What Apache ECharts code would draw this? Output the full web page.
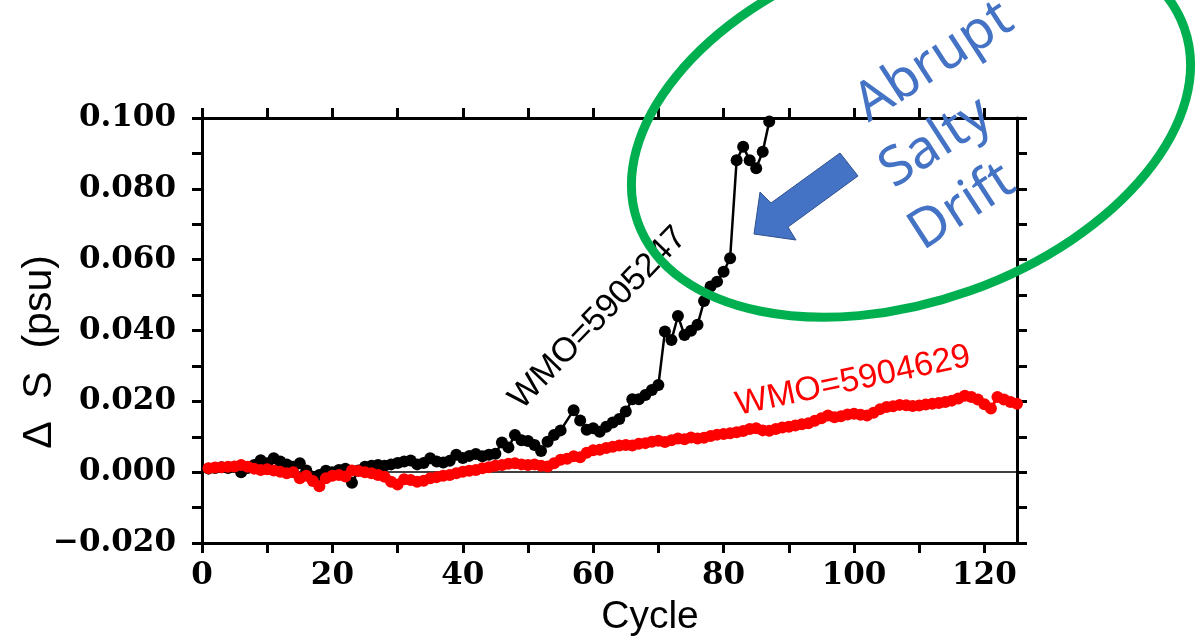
<!DOCTYPE html>
<html><head><meta charset="utf-8">
<script src="https://cdn.jsdelivr.net/npm/echarts@6/dist/echarts.min.js"></script>
<style>html,body{margin:0;padding:0;background:#fff}#c{width:1203px;height:641px}</style>
</head><body><div id="c"></div>
<script>
// WMO=5905247 (black)
const blackCycles = [1,2,3,4,5,6,7,8,9,10,11,12,13,14,15,16,17,18,19,20,21,22,23,24,25,26,27,28,29,30,
  31,32,33,34,35,36,37,38,39,40,41,42,43,44,45,46,47,48,49,50,51,52,53,54,55,57,58,59,60,61,62,63,64,65,
  66,67,68,69,70,71,72,73,74,75,76,77,78,79,80,81,82,83,84,85,86,87];
const blackValues = [0.0010,0.0012,0.0014,0.0012,0.0015,0.0000,0.0012,0.0020,0.0034,0.0025,
  0.0039,0.0030,0.0022,0.0015,0.0025,0.0005,-0.0013,-0.0008,0.0004,0.0000,
  0.0006,0.0010,-0.0030,0.0005,0.0015,0.0018,0.0020,0.0018,0.0022,0.0026,
  0.0030,0.0033,0.0022,0.0026,0.0039,0.0030,0.0027,0.0032,0.0049,0.0040,
  0.0046,0.0051,0.0045,0.0049,0.0052,0.0084,0.0070,0.0105,0.0090,0.0088,
  0.0077,0.0060,0.0086,0.0105,0.0118,0.0175,0.0146,0.0120,0.0124,0.0114,
  0.0128,0.0140,0.0150,0.0171,0.0206,0.0206,0.0218,0.0232,0.0246,0.0397,
  0.0373,0.0441,0.0387,0.0399,0.0416,0.0483,0.0524,0.0538,0.0566,0.0604,
  0.0881,0.0919,0.0881,0.0858,0.0905,0.0990];
// WMO=5904629 (red)
const redCycles = [1,2,3,4,5,6,7,8,9,10,11,12,13,14,15,16,17,18,19,20,21,22,23,24,25,
  26,27,28,29,30,31,32,33,34,35,36,37,38,39,40,41,42,43,44,45,46,47,48,49,50,
  51,52,53,54,55,56,57,58,59,60,61,62,63,64,65,66,67,68,69,70,71,72,73,74,75,
  76,77,78,79,80,81,82,83,84,85,86,87,88,89,90,91,92,93,94,95,96,97,98,99,100,
  101,102,103,104,105,106,107,108,109,110,111,112,113,114,115,116,117,118,119,120,121,122,123,124,125];
const redValues = [0.0011,0.0013,0.0014,0.0015,0.0016,0.0020,0.0015,0.0010,0.0006,0.0008,
  0.0005,0.0001,-0.0003,0.0000,-0.0017,-0.0010,-0.0025,-0.0040,-0.0017,-0.0010,
  -0.0008,-0.0012,0.0005,0.0003,0.0000,-0.0003,-0.0008,-0.0013,-0.0027,-0.0035,
  -0.0020,-0.0022,-0.0027,-0.0024,-0.0017,-0.0014,-0.0010,-0.0008,-0.0003,0.0001,
  0.0004,0.0006,0.0011,0.0014,0.0018,0.0020,0.0024,0.0025,0.0022,0.0020,
  0.0022,0.0018,0.0016,0.0025,0.0035,0.0038,0.0045,0.0042,0.0055,0.0062,
  0.0063,0.0068,0.0072,0.0075,0.0077,0.0075,0.0080,0.0082,0.0086,0.0089,
  0.0085,0.0090,0.0095,0.0093,0.0098,0.0095,0.0097,0.0102,0.0106,0.0108,
  0.0110,0.0113,0.0116,0.0122,0.0124,0.0118,0.0117,0.0122,0.0126,0.0128,
  0.0132,0.0135,0.0138,0.0145,0.0152,0.0160,0.0155,0.0158,0.0163,0.0165,
  0.0162,0.0160,0.0168,0.0178,0.0184,0.0186,0.0190,0.0189,0.0187,0.0188,
  0.0191,0.0193,0.0195,0.0198,0.0202,0.0208,0.0216,0.0212,0.0205,0.0192,
  0.0180,0.0212,0.0205,0.0198,0.0193];
const xTickValues = [0,10,20,30,40,50,60,70,80,90,100,110,120];
const xLabelValues = [0,20,40,60,80,100,120];
const yLabelValues = [-0.02,0,0.02,0.04,0.06,0.08,0.1];

const blackData = blackCycles.map((c,i)=>[c, blackValues[i]]);
const redData = redCycles.map((c,i)=>[c, redValues[i]]);

const axisLine = {show:true, onZero:false, lineStyle:{color:'#000', width:3}};
const axisTick = {show:true, inside:false, length:10, lineStyle:{color:'#000', width:3}};
const labelFont = {fontFamily:'DejaVu Serif', fontWeight:'bold', fontSize:31, color:'#000'};
const fmtY = v => (v < 0 ? '\u2212' : '') + Math.abs(v).toFixed(3);

const chart = echarts.init(document.getElementById('c'), null, {renderer:'canvas'});
chart.setOption({
  animation:false,
  backgroundColor:'#fff',
  grid:{left:202, right:186, top:118, bottom:98, containLabel:false},
  xAxis:[
    {type:'value', position:'bottom', min:0, max:125, interval:10,
     axisLine, axisTick:Object.assign({customValues:xTickValues}, axisTick),
     axisLabel:Object.assign({customValues:xLabelValues, margin:17, formatter:v=>String(v)}, labelFont),
     splitLine:{show:false}},
    {type:'value', position:'top', min:0, max:125, interval:10,
     axisLine, axisTick:Object.assign({customValues:xTickValues}, axisTick),
     axisLabel:{show:false}, splitLine:{show:false}}
  ],
  yAxis:[
    {type:'value', position:'left', min:-0.02, max:0.1, interval:0.01,
     axisLine, axisTick,
     axisLabel:Object.assign({customValues:yLabelValues, margin:26, formatter:fmtY}, labelFont),
     splitLine:{show:false}},
    {type:'value', position:'right', min:-0.02, max:0.1, interval:0.01,
     axisLine, axisTick, axisLabel:{show:false}, splitLine:{show:false}}
  ],
  series:[
    {name:'WMO=5905247', type:'line', data:blackData, xAxisIndex:0, yAxisIndex:0,
     symbol:'circle', symbolSize:12, showSymbol:true,
     lineStyle:{color:'#000', width:2.5}, itemStyle:{color:'#000'}, z:3,
     markLine:{silent:true, symbol:['none','none'], label:{show:false},
       lineStyle:{color:'#000', width:1.5, type:'solid'}, data:[{yAxis:0}], z:1}},
    {name:'WMO=5904629', type:'line', data:redData, xAxisIndex:0, yAxisIndex:0,
     symbol:'circle', symbolSize:12, showSymbol:true,
     lineStyle:{color:'#ff0000', width:3}, itemStyle:{color:'#ff0000'}, z:4}
  ],
  graphic:[
    {type:'text', x:40, y:352, rotation:Math.PI/2,
     style:{text:'\u0394  S  (psu)', x:0, y:0, align:'center', verticalAlign:'middle',
       font:'41px "Liberation Sans", Arial, sans-serif', fill:'#000'}},
    {type:'text', x:650, y:617,
     style:{text:'Cycle', x:0, y:0, align:'center', verticalAlign:'middle',
       font:'39px "Liberation Sans", Arial, sans-serif', fill:'#000'}},
    {type:'text', x:598, y:318, rotation:46*Math.PI/180,
     style:{text:'WMO=5905247', x:0, y:0, align:'center', verticalAlign:'middle',
       font:'34px "Liberation Sans", Arial, sans-serif', fill:'#000'}},
    {type:'text', x:853, y:381, rotation:12*Math.PI/180,
     style:{text:'WMO=5904629', x:0, y:0, align:'center', verticalAlign:'middle',
       font:'34px "Liberation Sans", Arial, sans-serif', fill:'#ff0000'}},
    {type:'ellipse', x:911, y:125, rotation:19.6*Math.PI/180,
     shape:{cx:0, cy:0, rx:290, ry:176},
     style:{fill:'none', stroke:'#00b050', lineWidth:9}, z:10},
    {type:'polygon', z:11,
     shape:{points:[[754,234],[760,192],[771,203],[840,153],[858,176],[788,227],[796,240]]},
     style:{fill:'#4472c4', stroke:'#2f528f', lineWidth:1}},
    {type:'text', x:934, y:62, rotation:33*Math.PI/180, z:12,
     style:{text:'Abrupt', x:0, y:0, align:'center', verticalAlign:'middle',
       font:'54px "Noto Sans", "Open Sans", sans-serif', fill:'#4472c4'}},
    {type:'text', x:936, y:143, rotation:33*Math.PI/180, z:12,
     style:{text:'Salty', x:0, y:0, align:'center', verticalAlign:'middle',
       font:'54px "Noto Sans", "Open Sans", sans-serif', fill:'#4472c4'}},
    {type:'text', x:962, y:207, rotation:33*Math.PI/180, z:12,
     style:{text:'Drift', x:0, y:0, align:'center', verticalAlign:'middle',
       font:'54px "Noto Sans", "Open Sans", sans-serif', fill:'#4472c4'}}
  ]
});
</script></body></html>
